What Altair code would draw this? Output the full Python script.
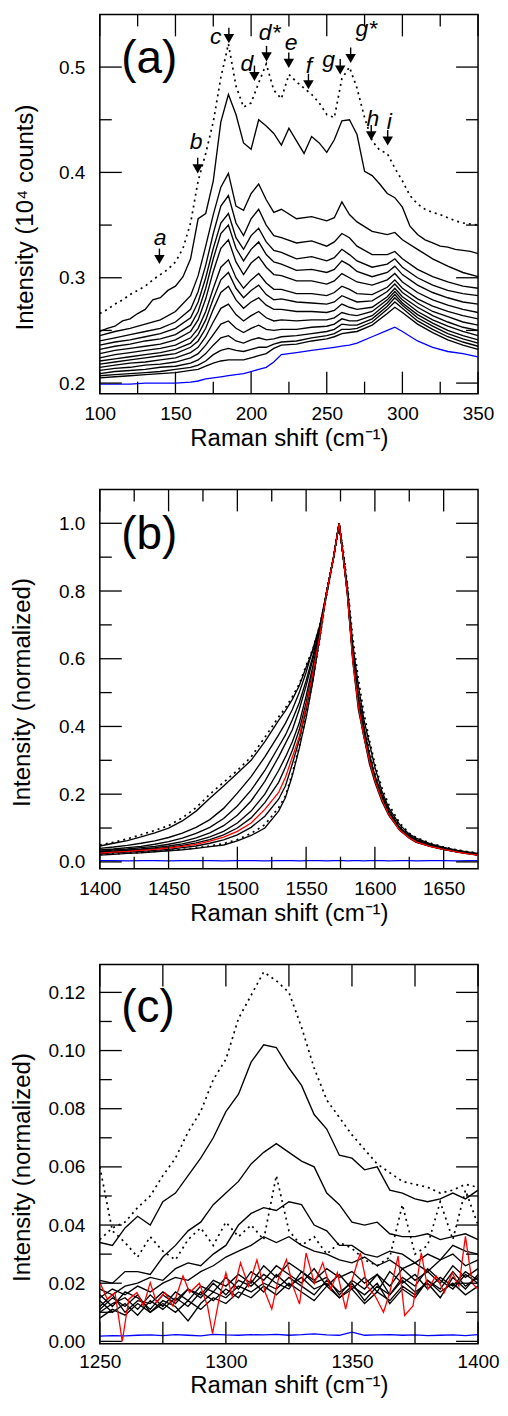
import altair as alt
import pandas as pd

FONT = "Liberation Sans"
W, H = 379, 380
MAJ, MIN = 22, 12

# ---------------- panel (a) ----------------
A_X_FINE = list(range(100, 351, 5))
A_DOTTED = [0.266, 0.270, 0.275, 0.279, 0.284, 0.288, 0.292, 0.298, 0.303, 0.308,
            0.315, 0.328, 0.352, 0.392, 0.418, 0.448, 0.490, 0.522, 0.482, 0.462,
            0.466, 0.485, 0.503, 0.478, 0.470, 0.493, 0.486, 0.480, 0.474, 0.466,
            0.455, 0.452, 0.489, 0.500, 0.480, 0.452, 0.430, 0.421, 0.418, 0.404,
            0.392, 0.378, 0.370, 0.365, 0.362, 0.360, 0.357, 0.354, 0.352, 0.351, 0.350]
A_L2 = [0.249, 0.252, 0.254, 0.259, 0.261, 0.266, 0.270, 0.279, 0.281, 0.288,
        0.292, 0.301, 0.318, 0.356, 0.361, 0.392, 0.448, 0.474, 0.455, 0.428,
        0.422, 0.450, 0.444, 0.437, 0.426, 0.442, 0.430, 0.418, 0.434, 0.428,
        0.419, 0.431, 0.449, 0.450, 0.436, 0.401, 0.397, 0.389, 0.380, 0.376,
        0.367, 0.349, 0.341, 0.336, 0.333, 0.330, 0.329, 0.327, 0.326, 0.325, 0.323]
A_X = [100, 110, 120, 130, 140, 150, 160, 165, 170, 175, 180, 185, 190, 195, 200, 205,
       210, 215, 220, 230, 240, 250, 255, 260, 265, 270, 280, 290, 295, 300, 310, 320,
       330, 340, 350]
A_LINES = {
    "L3": [.245, .249, .252, .256, .260, .268, .283, .302, .330, .360, .386, .399, .368, .364, .380, .389, .374, .362, .365,
           .356, .358, .354, .357, .372, .360, .353, .344, .341, .343, .336, .327, .318, .311, .305, .301],
    "L4": [.240, .243, .246, .249, .252, .258, .270, .287, .312, .342, .368, .378, .352, .340, .356, .365, .350, .340, .338,
           .333, .335, .330, .334, .342, .338, .330, .322, .322, .325, .318, .308, .301, .296, .292, .290],
    "L5": [.236, .239, .241, .244, .247, .252, .262, .277, .300, .328, .352, .361, .338, .327, .340, .347, .334, .326, .324,
           .318, .320, .316, .319, .327, .322, .316, .310, .313, .318, .310, .300, .293, .288, .285, .283],
    "L6": [.232, .235, .237, .240, .242, .246, .255, .268, .290, .318, .342, .350, .328, .316, .327, .334, .322, .315, .313,
           .307, .308, .305, .308, .316, .312, .306, .301, .305, .311, .303, .293, .286, .281, .277, .275],
    "L7": [.228, .231, .233, .235, .237, .241, .249, .260, .280, .306, .328, .336, .315, .303, .314, .320, .310, .303, .302,
           .297, .297, .294, .297, .304, .300, .296, .293, .298, .304, .296, .286, .279, .274, .270, .267],
    "L8": [.224, .227, .229, .231, .233, .236, .243, .252, .268, .290, .310, .317, .300, .290, .298, .304, .295, .289, .289,
           .285, .285, .283, .286, .292, .289, .285, .284, .291, .298, .290, .280, .273, .268, .264, .261],
    "L9": [.221, .223, .225, .227, .229, .232, .238, .246, .260, .280, .298, .305, .290, .281, .288, .293, .284, .279, .280,
           .277, .276, .275, .277, .283, .280, .277, .278, .287, .294, .286, .276, .268, .263, .258, .255],
    "L10": [.218, .220, .222, .224, .226, .228, .234, .240, .252, .270, .286, .292, .279, .271, .277, .281, .274, .270, .270,
            .268, .268, .267, .269, .275, .272, .270, .272, .282, .290, .282, .272, .264, .258, .253, .250],
    "L11": [.215, .217, .219, .220, .222, .224, .229, .234, .244, .258, .271, .275, .265, .259, .264, .268, .262, .259, .260,
            .259, .260, .260, .262, .267, .265, .264, .268, .279, .287, .279, .268, .260, .254, .249, .245],
    "L12": [.212, .214, .215, .217, .218, .220, .224, .228, .236, .246, .256, .259, .252, .248, .252, .255, .251, .250, .251,
            .251, .253, .254, .256, .261, .259, .259, .264, .276, .284, .276, .265, .257, .250, .245, .241],
    "L13": [.209, .211, .212, .213, .215, .216, .219, .222, .228, .236, .243, .245, .240, .238, .241, .243, .241, .242, .244,
            .245, .247, .249, .251, .256, .255, .255, .261, .273, .281, .274, .262, .254, .247, .242, .238],
    "L14": [.207, .208, .209, .210, .211, .213, .215, .217, .221, .227, .231, .233, .231, .230, .232, .234, .234, .237, .239,
            .240, .243, .245, .247, .251, .251, .252, .258, .270, .277, .271, .259, .251, .244, .239, .235],
    "L15": [.205, .206, .207, .208, .209, .210, .212, .213, .216, .219, .221, .222, .222, .222, .224, .226, .228, .233, .236,
            .237, .240, .242, .244, .247, .248, .249, .255, .266, .272, .267, .256, .248, .241, .236, .232],
}
A_BLUE = [.199, .199, .199, .200, .200, .200, .201, .202, .204, .205, .206, .207, .208, .209, .211, .213, .215, .220, .227,
          .229, .231, .233, .234, .235, .236, .238, .244, .250, .253, .249, .240, .234, .230, .228, .225]
A_XMAJ = [100, 150, 200, 250, 300, 350]
A_XMIN = [125, 175, 225, 275, 325]
A_YMAJ = [0.2, 0.3, 0.4, 0.5]
A_YMIN = [0.25, 0.35, 0.45]
A_ARROW_X = [139.4, 164.7, 185.3, 202.2, 210.2, 224.9, 237.9, 258.9, 265.8, 279.4, 290.3]
A_ARROW_Y = [0.3116, 0.3977, 0.5213, 0.4853, 0.504, 0.4978, 0.4775, 0.4915, 0.5025, 0.429, 0.4242]
A_LETTERS = ["a", "b", "c", "d", "d*", "e", "f", "g", "g*", "h", "i"]
A_LETTER_X = [139.8, 163.6, 176.6, 197.2, 212.3, 226.4, 238.3, 251.3, 276.2, 280.5, 291.4]
A_LETTER_Y = [0.338, 0.429, 0.529, 0.5025, 0.532, 0.5228, 0.5009, 0.507, 0.536, 0.451, 0.448]

# ---------------- panel (b) ----------------
B_X = [1400, 1410, 1420, 1430, 1440, 1450, 1460, 1470, 1480, 1490, 1500, 1510, 1520, 1530, 1535, 1540,
       1545, 1550, 1555, 1560, 1565, 1570, 1574, 1577, 1580, 1584, 1588, 1592, 1596, 1600, 1605, 1610,
       1618, 1625, 1630, 1640, 1650, 1660, 1668, 1675]
B_DOTTED = {
    "B1": [.050, .058, .068, .080, .093, .107, .130, .160, .200, .235, .270, .310, .368, .428, .455, .488, .525, .580, .630, .700, .790, .900, 1.0,
           .92, .82, .66, .54, .44, .36, .29, .22, .17, .115, .085, .072, .056, .044, .035, .030, .026],
    "B10": [.022, .024, .026, .028, .031, .034, .037, .041, .047, .054, .066, .084, .110, .160, .195, .262, .340, .430, .540, .660, .795, .900, 1.0,
            .90, .80, .61, .49, .40, .33, .26, .20, .155, .105, .080, .067, .052, .042, .034, .028, .024],
}
B_SOLID = {
    "B2": [.047, .055, .063, .074, .086, .100, .121, .150, .188, .224, .262, .300, .355, .418, .447, .480, .520, .575, .625, .695, .790, .900, 1.0,
           .91, .81, .64, .52, .42, .35, .28, .21, .16, .11, .082, .070, .054, .043, .034, .029, .025],
    "B3": [.040, .044, .049, .055, .062, .072, .085, .102, .125, .158, .203, .252, .310, .375, .410, .450, .500, .560, .630, .700, .800, .900, 1.0,
           .90, .80, .62, .49, .40, .32, .255, .20, .153, .102, .078, .066, .051, .041, .033, .028, .023],
    "B4": [.035, .038, .042, .046, .052, .060, .070, .084, .102, .128, .165, .212, .270, .340, .375, .420, .470, .535, .610, .690, .800, .900, 1.0,
           .90, .80, .61, .48, .39, .31, .25, .195, .150, .100, .076, .064, .050, .040, .032, .027, .022],
    "B5": [.032, .035, .038, .042, .046, .052, .060, .071, .086, .107, .138, .180, .238, .310, .350, .390, .450, .520, .600, .685, .800, .900, 1.0,
           .90, .80, .60, .47, .38, .31, .245, .19, .146, .098, .074, .062, .049, .039, .031, .026, .021],
    "B6": [.030, .032, .035, .038, .042, .047, .053, .062, .074, .090, .115, .150, .200, .270, .310, .355, .410, .490, .580, .680, .800, .900, 1.0,
           .90, .80, .60, .47, .38, .30, .245, .19, .145, .097, .073, .061, .048, .038, .030, .025, .021],
    "B7": [.028, .030, .033, .036, .039, .043, .049, .056, .066, .080, .100, .130, .175, .235, .280, .330, .390, .470, .565, .675, .800, .900, 1.0,
           .90, .79, .60, .46, .37, .30, .24, .185, .142, .095, .072, .060, .047, .037, .030, .025, .020],
    "B9": [.024, .027, .029, .031, .034, .037, .042, .047, .055, .065, .080, .102, .135, .185, .225, .290, .360, .450, .550, .665, .800, .900, 1.0,
           .90, .79, .59, .45, .37, .29, .235, .18, .138, .093, .070, .058, .046, .036, .029, .024, .020],
    "B11": [.020, .022, .025, .027, .030, .033, .036, .040, .045, .050, .062, .078, .100, .150, .190, .255, .335, .425, .535, .665, .800, .900, 1.0,
            .90, .80, .60, .47, .38, .30, .245, .19, .145, .097, .072, .060, .047, .038, .030, .025, .020],
}
B_RED = [.026, .029, .031, .034, .037, .041, .046, .052, .061, .073, .090, .115, .155, .205, .250, .310, .370, .460, .560, .670, .800, .900, 1.0,
         .90, .79, .59, .46, .37, .30, .24, .185, .140, .094, .071, .059, .046, .037, .029, .024, .020]
B_BLUE = [.004, .004, .003, .004, .004, .003, .004, .004, .004, .003, .004, .004, .003, .004, .004, .004, .003, .004, .004, .004,
          .003, .004, .004, .004, .003, .004, .004, .003, .004, .004, .004, .003, .004, .004, .003, .004, .004, .003, .004, .004]
B_XMAJ = [1400, 1450, 1500, 1550, 1600, 1650]
B_XMIN = [1425, 1475, 1525, 1575, 1625]
B_YMAJ = [0.0, 0.2, 0.4, 0.6, 0.8, 1.0]
B_YMIN = [0.1, 0.3, 0.5, 0.7, 0.9]

# ---------------- panel (c) ----------------
C_X = list(range(1250, 1401, 5))
C_DOTTED = {
    "C1": [.035, .039, .041, .046, .050, .057, .063, .072, .079, .090, .097, .111, .119, .127, .124, .120, .108, .094, .083, .077,
           .071, .066, .061, .058, .055, .054, .053, .051, .052, .054, .053],
    "C5": [.060, .038, .034, .029, .036, .031, .028, .035, .039, .033, .041, .036, .040, .035, .057, .038, .033, .036, .030, .034,
           .032, .028, .026, .029, .047, .030, .033, .048, .035, .052, .040],
}
C_SOLID = {
    "C2": [.034, .033, .039, .043, .040, .048, .051, .057, .063, .070, .079, .085, .096, .102, .101, .094, .088, .078, .073, .064,
           .063, .059, .060, .052, .051, .049, .048, .049, .051, .049, .052],
    "C3": [.021, .020, .024, .024, .023, .029, .033, .038, .041, .047, .051, .055, .061, .065, .068, .065, .062, .060, .051, .047,
           .041, .040, .041, .037, .036, .036, .037, .035, .036, .037, .035],
    "C4": [.018, .016, .019, .020, .022, .021, .025, .027, .026, .030, .033, .040, .044, .046, .045, .048, .047, .040, .038, .033,
           .033, .030, .029, .031, .030, .027, .030, .028, .033, .031, .030],
    "C6": [.015, .018, .016, .019, .017, .020, .022, .021, .024, .026, .029, .031, .033, .036, .034, .036, .033, .031, .030, .028,
           .027, .029, .026, .028, .025, .027, .024, .028, .030, .026, .028],
    "C7": [.012, .016, .010, .014, .013, .017, .014, .018, .016, .021, .019, .023, .020, .026, .022, .027, .024, .021, .025, .022,
           .024, .020, .023, .019, .025, .021, .024, .020, .026, .022, .025],
    "C8": [.010, .013, .015, .011, .016, .012, .017, .014, .019, .017, .022, .018, .024, .021, .026, .023, .020, .025, .019, .023,
           .018, .022, .017, .024, .020, .023, .018, .022, .019, .024, .021],
    "C9": [.016, .012, .017, .015, .011, .016, .013, .018, .015, .020, .016, .021, .019, .023, .020, .018, .024, .020, .022, .016,
           .021, .018, .023, .016, .022, .019, .025, .021, .018, .023, .020],
    "C10": [.008, .011, .009, .013, .010, .014, .012, .007, .013, .017, .015, .019, .017, .020, .018, .022, .019, .016, .021, .017,
            .020, .014, .019, .016, .021, .017, .020, .015, .022, .018, .023],
    "C11": [.014, .010, .013, .009, .014, .011, .015, .012, .017, .014, .018, .015, .021, .017, .023, .019, .022, .018, .020, .015,
            .019, .016, .020, .013, .018, .015, .021, .017, .020, .016, .019],
    "C12": [.011, .015, .012, .016, .010, .013, .010, .014, .011, .015, .013, .017, .015, .019, .016, .020, .017, .014, .019, .015,
            .018, .013, .017, .014, .019, .016, .021, .018, .024, .019, .022],
}
C_RED_X = [1250, 1253, 1256, 1258.9, 1261.5, 1264.7, 1267.3, 1270, 1272.5, 1275.8,
           1279, 1283, 1285.6, 1289.5, 1292.7, 1294.7, 1297.3, 1300, 1302.5, 1305.8,
           1309, 1312.3, 1315.6, 1318.2, 1320.8, 1324, 1326.6, 1329.2, 1331.8, 1335.1,
           1338.4, 1341.6, 1344.2, 1347.5, 1350.1, 1353.3, 1356, 1359.2, 1362.5, 1365,
           1368.3, 1370.9, 1374.2, 1377.5, 1380.1, 1383.3, 1386.6, 1389.8, 1392.4, 1395,
           1397.7, 1400]
C_RED_Y = [.0202, .0145, .0168, .0, .0145, .0168, .0122, .0202, .0134, .0168,
           .0122, .0225, .0168, .020, .0122, .0027, .0145, .0236, .0156, .027,
           .019, .028, .0168, .0111, .0213, .0281, .019, .0128, .0304, .020,
           .027, .0179, .0236, .0111, .0213, .0304, .019, .0156, .010, .0168,
           .0293, .0089, .0122, .0304, .0179, .0225, .0168, .0236, .019, .0361,
           .020, .0179]
C_BLUE = [.0018, .0020, .0019, .0021, .0022, .0020, .0023, .0021, .0019, .0024,
          .0022, .0021, .0023, .0022, .0024, .0021, .0023, .0026, .0022, .0021,
          .0032, .0021, .0022, .0023, .0021, .0022, .0020, .0021, .0022, .0020, .0023]
C_XMAJ = [1250, 1300, 1350, 1400]
C_XMIN = [1275, 1325, 1375]
C_YMAJ = [0.0, 0.02, 0.04, 0.06, 0.08, 0.10, 0.12]
C_YMIN = [0.01, 0.03, 0.05, 0.07, 0.09, 0.11]

PANEL_LABELS = ["(a)", "(b)", "(c)"]
PANEL_LABEL_X = [114.1, 1415.5, 1258.5]
PANEL_LABEL_Y = [0.4944, 0.923, 0.1097]


def rows_for(x, series, kind):
    out = []
    for name, ys in series.items():
        for xv, yv in zip(x, ys):
            out.append({"x": xv, "y": yv, "s": name, "k": kind})
    return out


def make_panel(rows, xdom, ydom, xmaj, xmin, ymaj, ymin, xfmt, yfmt, ytitle, title_x,
               label_idx, xmin_len=MIN, extra=None, xtitle_y=52, xlabel_pad=26):
    df = pd.DataFrame(rows)
    xs = alt.Scale(domain=xdom, nice=False, zero=False)
    ys = alt.Scale(domain=ydom, nice=False, zero=False)
    xaxis = alt.Axis(values=xmaj, format=xfmt, title="Raman shift (cm\u207b\u00b9)",
                     labelPadding=xlabel_pad, labelBaseline="alphabetic",
                     titleY=xtitle_y, titleBaseline="alphabetic")
    yaxis = alt.Axis(values=ymaj, format=yfmt, title=ytitle, labelPadding=15,
                     titleX=title_x, titleY=203, titleAngle=270,
                     titleBaseline="alphabetic", titleAlign="center")

    def X(field):
        return alt.X(field, scale=xs, axis=xaxis)

    def Y(field):
        return alt.Y(field, scale=ys, axis=yaxis)

    base = alt.Chart(df)

    def lay(kind, **mk):
        return base.transform_filter(alt.datum.k == kind).mark_line(clip=True, **mk).encode(
            x=X("x:Q"), y=Y("y:Q"), detail="s:N")

    layers = [
        lay("solid", color="black", strokeWidth=1.35),
        lay("dotted", color="black", strokeWidth=1.7, strokeDash=[2, 4]),
        lay("blue", color="#0000ff", strokeWidth=1.3),
        lay("red", color="#ff0000", strokeWidth=1.3),
    ]

    def tick_layer(vals, length, side):
        c = alt.Chart(pd.DataFrame({"x": vals, "y": vals})).mark_rule(color="black", strokeWidth=1.3)
        if side in ("bottom", "top"):
            enc = dict(x=X("x:Q"))
            if side == "bottom":
                enc.update(y=alt.value(H), y2=alt.value(H - length))
            else:
                enc.update(y=alt.value(0), y2=alt.value(length))
        else:
            enc = dict(y=Y("y:Q"))
            if side == "left":
                enc.update(x=alt.value(0), x2=alt.value(length))
            else:
                enc.update(x=alt.value(W - length), x2=alt.value(W))
        return c.encode(**enc)

    for side in ("bottom", "top"):
        layers.append(tick_layer(xmaj, MAJ, side))
        layers.append(tick_layer(xmin, xmin_len, side))
    for side in ("left", "right"):
        layers.append(tick_layer(ymaj, MAJ, side))
        layers.append(tick_layer(ymin, MIN, side))

    lab = pd.DataFrame({"x": [PANEL_LABEL_X[label_idx]], "y": [PANEL_LABEL_Y[label_idx]],
                        "t": [PANEL_LABELS[label_idx]]})
    layers.append(alt.Chart(lab).mark_text(fontSize=46, font=FONT, align="left",
                                           baseline="alphabetic", color="black").encode(
        x=X("x:Q"), y=Y("y:Q"), text="t:N"))

    if extra is not None:
        layers.extend(extra(X, Y))
    return alt.layer(*layers).properties(width=W, height=H)


def annotations(X, Y):
    arr = pd.DataFrame({"x": A_ARROW_X, "y": A_ARROW_Y})
    let = pd.DataFrame({"x": A_LETTER_X, "y": A_LETTER_Y, "t": A_LETTERS})
    tri = alt.Chart(arr).mark_point(shape="triangle-down", filled=True, size=110, color="black",
                                    opacity=1, yOffset=-6).encode(x=X("x:Q"), y=Y("y:Q"))
    stem = alt.Chart(arr).mark_tick(orient="vertical", size=8, thickness=1.4, color="black",
                                    opacity=1, yOffset=-13).encode(x=X("x:Q"), y=Y("y:Q"))
    txt = alt.Chart(let).mark_text(fontSize=23, font=FONT, fontStyle="italic", align="center",
                                   baseline="middle", color="black").encode(
        x=X("x:Q"), y=Y("y:Q"), text="t:N")
    return [tri, stem, txt]


rows_a = (rows_for(A_X_FINE, {"dot": A_DOTTED}, "dotted")
          + rows_for(A_X_FINE, {"L2": A_L2}, "solid")
          + rows_for(A_X, A_LINES, "solid")
          + rows_for(A_X, {"blue": A_BLUE}, "blue"))
rows_b = (rows_for(B_X, B_SOLID, "solid") + rows_for(B_X, B_DOTTED, "dotted")
          + rows_for(B_X, {"blue": B_BLUE}, "blue") + rows_for(B_X, {"red": B_RED}, "red"))
rows_c = (rows_for(C_X, C_SOLID, "solid") + rows_for(C_X, C_DOTTED, "dotted")
          + rows_for(C_X, {"blue": C_BLUE}, "blue") + rows_for(C_RED_X, {"red": C_RED_Y}, "red"))

pa = make_panel(rows_a, [100, 350], [0.19, 0.55], A_XMAJ, A_XMIN, A_YMAJ, A_YMIN, "d", ".1f",
                "Intensity (10\u2074 counts)", -67, 0, extra=annotations)
pb = make_panel(rows_b, [1400, 1675], [-0.02, 1.1], B_XMAJ, B_XMIN, B_YMAJ, B_YMIN, "d", ".1f",
                "Intensity (normalized)", -70, 1)
pc = make_panel(rows_c, [1250, 1400], [-0.0008, 0.1296], C_XMAJ, C_XMIN, C_YMAJ, C_YMIN, "d", ".2f",
                "Intensity (normalized)", -70, 2, xmin_len=MAJ, xtitle_y=49, xlabel_pad=24)

chart = alt.vconcat(pa, pb, pc, spacing=96, bounds="flush").properties(
    padding={"left": 2, "top": 3, "right": 0, "bottom": 0},
    background="white",
).configure_view(stroke="black", strokeWidth=1.5).configure_axis(
    labelFont=FONT, titleFont=FONT, labelFontSize=19, titleFontSize=24,
    labelColor="black", titleColor="black", titleFontWeight="normal",
    ticks=False, tickSize=0, domain=False, grid=False, labelFlush=False, labelOverlap=False,
)

chart.save("out.html", embed_options={"renderer": "svg", "actions": False})
